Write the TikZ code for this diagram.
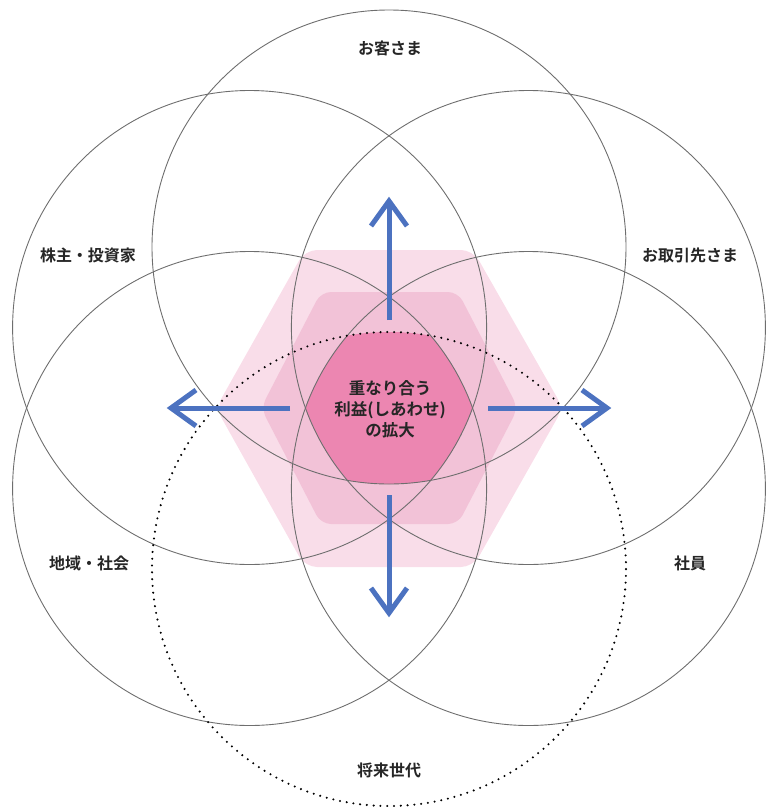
\documentclass[tikz,border=0pt]{standalone}
\usepackage{fontspec}
\newfontfamily\jp{Noto Sans CJK JP}[BoldFont={Noto Sans CJK JP Bold}]
\usetikzlibrary{calc}
\definecolor{ringgray}{RGB}{110,110,110}
\definecolor{pinkA}{RGB}{249,221,233}
\definecolor{pinkB}{RGB}{242,194,215}
\definecolor{pinkC}{RGB}{236,134,177}
\definecolor{arrowblue}{RGB}{76,114,192}
\tikzset{
  ring/.style={draw=ringgray, line width=0.9pt},
  dotring/.style={draw=black, line width=2.3pt, line cap=round, dash pattern=on 0pt off 6.8pt},
  bluearrow/.style={draw=arrowblue, line width=5pt, line cap=butt, line join=miter},
  lbl/.style={font=\jp\bfseries\fontsize{16}{19}\selectfont, text=black!85, align=center, inner sep=0pt},
  ctr/.style={font=\jp\bfseries\fontsize{16.5}{21}\selectfont, text=black!85, align=center, inner sep=0pt}
}
\begin{document}
\begin{tikzpicture}[x=1pt,y=-1pt]
\useasboundingbox (0,0) rectangle (766,807);
% centres
\coordinate (O) at (389,408);
\coordinate (cT) at (389,247);
\coordinate (cB) at (389,569);
\coordinate (cUL) at (249.6,327.5);
\coordinate (cUR) at (528.4,327.5);
\coordinate (cLL) at (249.6,488.5);
\coordinate (cLR) at (528.4,488.5);
\def\R{237pt}
% hexagons
\fill[pinkA, rounded corners=12pt] (216,408) -- (305,250) -- (473,250) -- (563,408) -- (473,567) -- (305,567) -- cycle;
\fill[pinkB, rounded corners=10pt] (261,408) -- (321,292) -- (458,292) -- (518,408) -- (458,524) -- (321,524) -- cycle;
% intersection of all six circles
\begin{scope}
  \clip (cT) circle[radius=\R];
  \clip (cB) circle[radius=\R];
  \clip (cUL) circle[radius=\R];
  \clip (cUR) circle[radius=\R];
  \clip (cLL) circle[radius=\R];
  \clip (cLR) circle[radius=\R];
  \fill[pinkC] (150,150) rectangle (650,650);
\end{scope}
% circles
\draw[ring] (cT) circle[radius=\R];
\draw[ring] (cUL) circle[radius=\R];
\draw[ring] (cUR) circle[radius=\R];
\draw[ring] (cLL) circle[radius=\R];
\draw[ring] (cLR) circle[radius=\R];
\draw[dotring] (cB) circle[radius=\R];
% arrows
\coordinate (uS) at (389,320); \coordinate (uE) at (389,201);
\coordinate (dS) at (389,495); \coordinate (dE) at (389,613);
\coordinate (lS) at (290,408); \coordinate (lE) at (171,408);
\coordinate (rS) at (488,408); \coordinate (rE) at (607,408);
\draw[bluearrow] (uS) -- (uE);
\draw[bluearrow] ($(uE)+(-18,25)$) -- (uE) -- ($(uE)+(18,25)$);
\draw[bluearrow] (dS) -- (dE);
\draw[bluearrow] ($(dE)+(-18,-25)$) -- (dE) -- ($(dE)+(18,-25)$);
\draw[bluearrow] (lS) -- (lE);
\draw[bluearrow] ($(lE)+(25,-18)$) -- (lE) -- ($(lE)+(25,18)$);
\draw[bluearrow] (rS) -- (rE);
\draw[bluearrow] ($(rE)+(-25,-18)$) -- (rE) -- ($(rE)+(-25,18)$);
% labels
\node[lbl] (tT) at (390,48) {お客さま};
\node[lbl] (tUL) at (88,255) {株主・投資家};
\node[lbl] (tUR) at (690,255) {お取引先さま};
\node[lbl] (tLL) at (89,563) {地域・社会};
\node[lbl] (tLR) at (690,563) {社員};
\node[lbl] (tB) at (389,770) {将来世代};
\node[ctr] (tC) at (390,409) {重なり合う\\利益(しあわせ)\\の拡大};
\end{tikzpicture}
\end{document}
